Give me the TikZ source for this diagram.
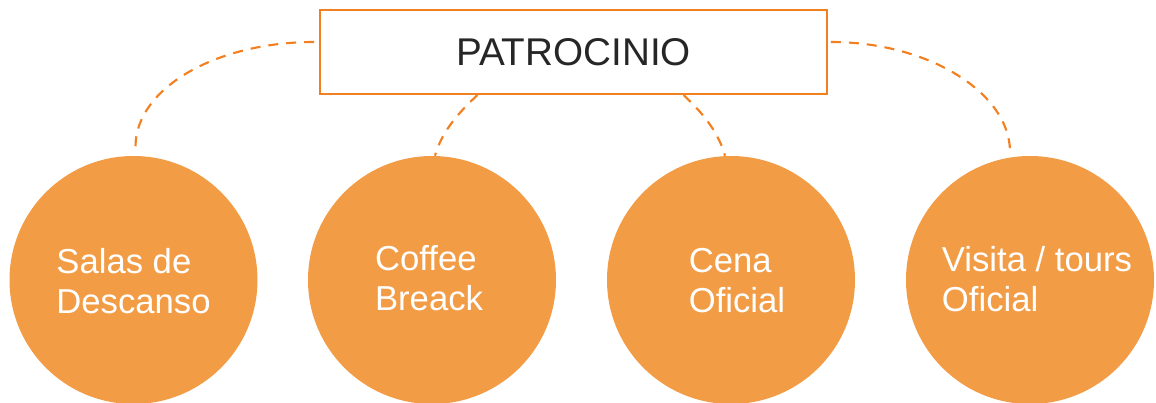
\documentclass[tikz,border=0pt]{standalone}
\usepackage{fontspec}
\setmainfont{Liberation Sans}
\definecolor{naranja}{RGB}{243,156,70}
\definecolor{borde}{RGB}{242,128,32}
\definecolor{texto}{RGB}{38,38,38}
\begin{document}
\begin{tikzpicture}[x=0.75pt,y=-0.75pt,
  caja/.style={draw=borde,line width=1.5pt,minimum width=380pt,minimum height=63pt,inner sep=0pt,text=texto,font=\fontsize{29}{34}\selectfont},
  bola/.style={circle,fill=naranja,minimum size=186pt,inner sep=0pt},
  rotulo/.style={text=white,align=left,inner sep=0pt,font=\fontsize{26}{30}\selectfont},
  enlace/.style={draw=borde,line width=1.6pt,dash pattern=on 7.5pt off 6pt}]
\useasboundingbox(0,0)rectangle(1156,403);
\node[caja](patro)at(573.5,52){PATROCINIO};
\node[bola](c1)at(133.5,280){};
\node[bola](c2)at(432,280){};
\node[bola](c3)at(731,280){};
\node[bola](c4)at(1030,280){};
\node[rotulo](t1)at([shift={(0,1)}]c1){Salas de\\Descanso};
\node[rotulo](t2)at([shift={(-3,-2)}]c2){Coffee\\Breack};
\node[rotulo](t3)at([shift={(6,1)}]c3){Cena\\Oficial};
\node[rotulo](t4)at([shift={(7,-1)}]c4){Visita / tours\\Oficial};
\draw[enlace]([shift={(-5,-10)}]patro.west)..controls +(-99,0) and +(0,-58)..([shift={(2,-9)}]c1.north);
\draw[enlace]([shift={(-96,0)}]patro.south)..controls +(-15,14) and +(7,-26)..([shift={(3,0)}]c2.north);
\draw[enlace]([shift={(110,0)}]patro.south)..controls +(15,14) and +(-7,-26)..([shift={(-6,0)}]c3.north);
\draw[enlace]([shift={(3,-10)}]patro.east)..controls +(99,0) and +(0,-58)..([shift={(-20,-4)}]c4.north);
\end{tikzpicture}
\end{document}
